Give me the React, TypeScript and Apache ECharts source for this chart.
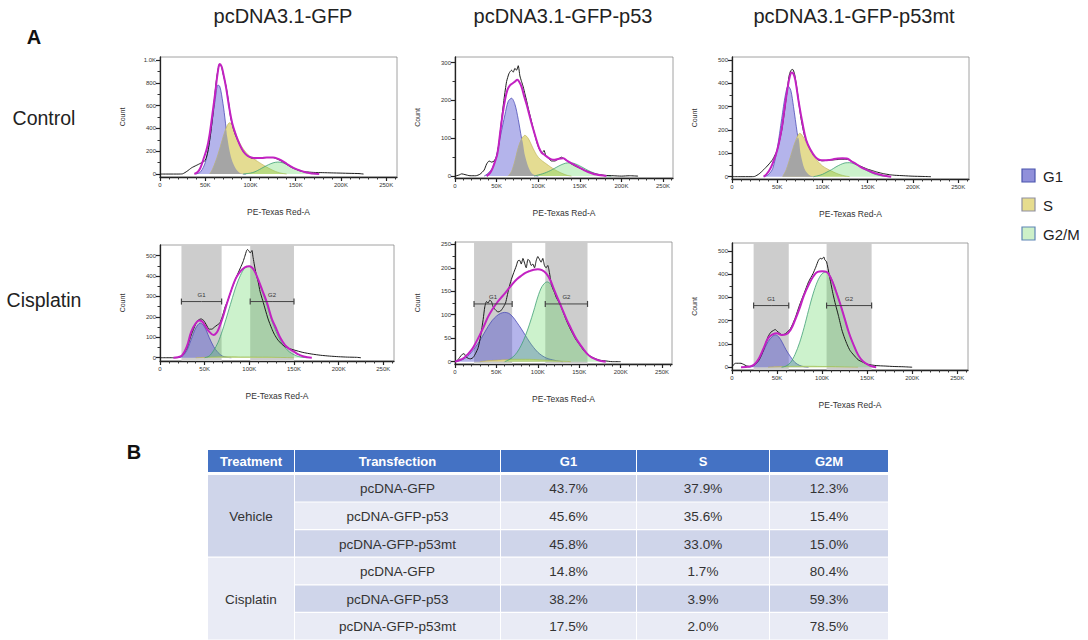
import React, { useEffect, useRef } from 'react';
import * as echarts from 'echarts';

// ---------- labels ----------
const columnTitles = ['pcDNA3.1-GFP', 'pcDNA3.1-GFP-p53', 'pcDNA3.1-GFP-p53mt'];
const rowTitles = ['Control', 'Cisplatin'];
const phaseNames = ['G1', 'S', 'G2/M'];
const gateNames = ['G1', 'G2'];
const xAxisName = 'PE-Texas Red-A';
const yAxisName = 'Count';

// ---------- ticks ----------
const xMajorTicks = [0, 50, 100, 150, 200, 250];
const xMinorTicks = [10, 20, 30, 40, 60, 70, 80, 90, 110, 120, 130, 140, 160, 170, 180, 190, 210, 220, 230, 240, 260];
const yTicks1000 = [0, 200, 400, 600, 800, 1000];
const yMinor1000 = [100, 300, 500, 700, 900];
const yTicks300 = [0, 100, 200, 300];
const yMinor300 = [50, 150, 250];
const yTicks500 = [0, 100, 200, 300, 400, 500];
const yMinor500 = [50, 150, 250, 350, 450];
const yTicks250 = [0, 50, 100, 150, 200, 250];
const yMinor250 = [25, 75, 125, 175, 225];

// ---------- Control / pcDNA3.1-GFP ----------
const ctrlGfpRaw = [[0,0],[10,0],[20,0],[25,2],[30,25],[35,55],[40,75],[45,95],[50,120],[53,200],[56,355],[59,560],[62,800],[64,910],[66,965],[68,940],[70,870],[73,770],[76,620],[78,500],[81,400],[84,330],[88,260],[91,210],[95,170],[101,140],[106,135],[112,140],[118,145],[125,145],[130,130],[135,110],[140,85],[145,60],[150,42],[155,28],[160,20],[170,14],[180,12],[190,10],[200,8],[210,6],[220,4],[225,0]];
const ctrlGfpFit = [[38,0],[42,20],[45,60],[48,130],[52,230],[55,355],[58,530],[61,710],[64,900],[66,965],[68,945],[70,880],[73,760],[77,560],[80,440],[84,340],[88,260],[92,200],[96,165],[101,145],[106,140],[112,140],[118,145],[125,145],[130,135],[135,115],[140,90],[145,65],[150,45],[155,30],[160,18],[165,10],[170,4],[176,0]];
const ctrlGfpG1 = [[40,0],[45,20],[50,100],[54,250],[58,480],[61,650],[64,780],[66,770],[68,700],[71,540],[74,340],[77,200],[80,110],[84,45],[88,12],[92,2],[95,0]];
const ctrlGfpS = [[55,0],[58,40],[62,120],[66,220],[70,330],[74,420],[77,450],[80,430],[83,370],[86,310],[90,245],[95,190],[100,150],[105,125],[110,100],[115,75],[120,52],[125,32],[130,16],[135,6],[140,0]];
const ctrlGfpOverlap = [[55,0],[58,40],[62,120],[66,220],[70,330],[73,390],[74,340],[77,200],[80,110],[84,45],[88,12],[92,2],[95,0]];
const ctrlGfpG2 = [[92,0],[100,8],[105,20],[110,40],[115,62],[120,82],[125,98],[130,105],[135,100],[140,85],[145,65],[150,45],[155,28],[160,15],[165,7],[170,2],[175,0]];

// ---------- Control / pcDNA3.1-GFP-p53 ----------
const ctrlP53Raw = [[0,0],[5,3],[8,6],[12,4],[18,1],[25,1],[30,5],[35,16],[38,32],[41,40],[44,37],[47,40],[50,52],[53,90],[56,150],[59,205],[62,250],[65,272],[68,280],[70,275],[72,285],[74,280],[76,292],[78,265],[80,250],[82,236],[84,218],[86,200],[88,180],[90,162],[93,135],[96,108],[99,85],[102,68],[105,62],[107,68],[109,55],[112,48],[116,40],[120,40],[124,45],[128,50],[131,46],[135,40],[140,32],[145,26],[150,21],[155,16],[160,12],[165,8],[170,5],[180,2],[190,1],[200,0],[210,1],[220,0]];
const ctrlP53Fit = [[38,0],[42,8],[45,20],[48,38],[51,60],[54,110],[57,160],[60,200],[63,228],[66,240],[69,245],[72,250],[75,255],[77,250],[80,236],[83,212],[86,190],[89,165],[92,140],[95,117],[98,95],[101,75],[104,62],[107,57],[110,52],[115,45],[120,43],[125,46],[130,47],[135,40],[140,34],[145,28],[150,22],[155,16],[160,11],[165,7],[170,4],[175,2],[182,0]];
const ctrlP53G1 = [[35,0],[40,8],[45,22],[50,55],[55,110],[60,162],[64,198],[68,206],[72,190],[76,150],[80,100],[84,55],[88,25],[92,8],[96,2],[100,0]];
const ctrlP53S = [[64,0],[68,12],[72,40],[76,75],[80,98],[84,108],[88,100],[92,82],[96,64],[100,50],[105,40],[110,32],[115,24],[120,17],[125,11],[130,6],[135,2],[140,0]];
const ctrlP53Overlap = [[64,0],[68,12],[72,40],[76,75],[80,98],[84,55],[88,25],[92,8],[96,2],[100,0]];
const ctrlP53G2 = [[95,0],[100,3],[105,6],[110,10],[115,15],[120,21],[125,27],[130,32],[135,35],[140,35],[145,32],[150,27],[155,21],[160,15],[165,10],[170,6],[175,3],[180,1],[188,0]];

// ---------- Control / pcDNA3.1-GFP-p53mt ----------
const ctrlMtRaw = [[0,0],[10,0],[20,0],[25,1],[30,12],[35,30],[40,50],[45,74],[50,114],[55,200],[58,280],[61,370],[63,430],[65,455],[67,460],[69,443],[72,371],[76,257],[80,178],[85,128],[90,93],[95,72],[100,68],[105,70],[110,71],[115,73],[120,74],[125,75],[130,72],[135,58],[140,48],[145,40],[150,32],[155,26],[160,20],[165,15],[170,11],[175,8],[180,6],[190,4],[200,2],[210,1],[220,0]];
const ctrlMtFit = [[35,0],[38,10],[41,25],[45,57],[50,114],[55,207],[58,290],[61,370],[64,431],[66,447],[68,440],[70,414],[74,314],[78,228],[82,157],[87,114],[92,85],[97,72],[102,70],[107,71],[112,75],[117,78],[122,79],[127,78],[132,66],[137,55],[142,42],[147,32],[152,24],[157,16],[162,10],[167,5],[172,2],[176,0]];
const ctrlMtG1 = [[35,0],[40,8],[45,35],[50,120],[55,250],[59,350],[62,389],[65,370],[68,300],[72,190],[76,95],[80,35],[85,8],[90,0]];
const ctrlMtS = [[56,0],[60,30],[65,90],[70,150],[75,186],[80,162],[85,122],[90,90],[95,65],[100,46],[105,34],[110,24],[115,15],[120,8],[125,3],[130,0]];
const ctrlMtOverlap = [[56,0],[60,30],[65,90],[70,150],[73,168],[76,95],[80,35],[85,8],[90,0]];
const ctrlMtG2 = [[90,0],[95,4],[100,10],[105,20],[110,30],[115,42],[120,52],[125,59],[130,60],[135,55],[140,46],[145,35],[150,24],[155,15],[160,8],[165,4],[170,1],[175,0]];

// ---------- Cisplatin / pcDNA3.1-GFP ----------
const cisGfpRaw = [[0,0],[10,0],[15,0],[20,1],[25,10],[30,46],[35,111],[40,165],[43,185],[46,190],[49,182],[52,160],[55,140],[58,140],[61,150],[64,160],[67,170],[70,205],[73,250],[76,280],[80,333],[85,390],[90,440],[93,470],[95,497],[97,525],[98,530],[100,520],[101,513],[103,525],[104,497],[107,423],[110,370],[112,325],[115,280],[118,234],[121,190],[125,144],[128,115],[132,87],[136,68],[140,54],[145,45],[150,38],[160,26],[170,18],[180,12],[190,8],[200,5],[210,3],[220,2],[225,0]];
const cisGfpFit = [[15,0],[20,2],[25,13],[30,54],[35,128],[40,169],[44,182],[47,178],[50,160],[55,128],[60,111],[63,120],[66,145],[70,193],[75,267],[80,333],[85,390],[90,423],[95,443],[100,448],[105,431],[110,382],[115,325],[120,267],[125,193],[130,144],[135,95],[140,62],[145,43],[150,30],[155,16],[160,7],[165,2],[170,0]];
const cisGfpG1 = [[20,0],[25,8],[30,35],[35,90],[40,145],[45,170],[50,150],[55,100],[60,55],[65,25],[70,8],[75,2],[80,0]];
const cisGfpS = [[40,0],[50,2],[60,4],[70,5],[80,5],[90,4],[100,4],[110,3],[120,3],[130,2],[140,1],[150,0]];
const cisGfpG2 = [[50,0],[55,8],[60,35],[65,75],[70,135],[75,205],[80,278],[85,348],[90,403],[95,440],[100,448],[105,430],[110,380],[115,320],[120,255],[125,185],[130,128],[135,82],[140,50],[145,28],[150,15],[155,6],[160,2],[165,0]];
const cisGfpGates = [[24, 69], [101, 150]];
const cisGfpGateLevel = 275;

// ---------- Cisplatin / pcDNA3.1-GFP-p53 ----------
const cisP53Raw = [[0,0],[3,3],[6,10],[9,16],[11,17],[13,11],[16,7],[19,6],[22,9],[25,18],[28,30],[31,55],[34,90],[36,117],[38,128],[40,125],[42,131],[44,128],[46,117],[49,110],[52,106],[55,108],[58,115],[61,125],[63,140],[65,156],[68,175],[71,190],[74,204],[76,215],[78,216],[80,208],[82,220],[84,210],[86,200],[88,218],[90,215],[92,205],[94,208],[96,200],[98,215],[100,224],[102,218],[104,212],[106,220],[108,205],[110,200],[112,205],[114,190],[116,168],[118,156],[120,148],[122,138],[125,128],[128,118],[131,104],[134,90],[137,78],[140,67],[143,57],[146,47],[150,38],[155,25],[160,16],[165,10],[170,6],[175,3],[180,2],[190,0],[200,0]];
const cisP53Fit = [[0,0],[5,3],[10,7],[15,15],[20,25],[25,40],[30,57],[35,76],[40,96],[45,111],[50,124],[55,135],[60,145],[65,156],[70,167],[75,176],[80,183],[85,189],[90,193],[95,196],[100,197],[105,195],[110,188],[115,174],[120,152],[125,131],[130,110],[135,89],[140,71],[145,53],[150,39],[155,27],[160,16],[165,9],[170,5],[175,2],[182,0]];
const cisP53G1 = [[0,0],[5,2],[10,5],[15,11],[20,20],[25,32],[30,45],[35,60],[40,75],[45,88],[50,97],[55,103],[60,105],[65,103],[70,95],[75,83],[80,70],[85,56],[90,42],[95,30],[100,20],[105,13],[110,8],[115,5],[120,3],[125,1],[130,0]];
const cisP53S = [[30,0],[40,2],[50,3],[60,4],[70,5],[80,5],[90,5],[100,4],[110,3],[120,2],[130,1],[140,0]];
const cisP53G2 = [[60,0],[65,4],[70,10],[75,20],[80,35],[85,55],[90,80],[95,108],[100,138],[105,160],[111,170],[115,166],[120,150],[125,130],[130,108],[135,88],[140,68],[145,51],[150,37],[155,25],[160,15],[165,9],[170,5],[175,2],[180,0]];
const cisP53Gates = [[23, 69], [109, 160]];
const cisP53GateLevel = 123;

// ---------- Cisplatin / pcDNA3.1-GFP-p53mt ----------
const cisMtRaw = [[0,0],[2,12],[4,17],[10,17],[13,12],[16,6],[20,3],[25,10],[30,31],[35,74],[40,131],[43,150],[46,158],[48,162],[50,155],[53,146],[56,139],[60,146],[65,167],[70,210],[75,267],[80,317],[85,367],[90,403],[93,430],[96,460],[98,468],[100,465],[101,470],[102,474],[103,462],[105,453],[108,396],[112,317],[115,268],[118,224],[122,160],[125,125],[128,96],[131,72],[135,53],[140,32],[145,22],[150,13],[160,7],[170,5],[180,3],[190,2],[200,0]];
const cisMtFit = [[10,0],[20,3],[25,13],[30,39],[35,81],[40,124],[45,141],[50,146],[55,139],[60,141],[65,160],[70,203],[75,253],[80,310],[85,353],[90,389],[95,410],[100,413],[105,410],[110,381],[115,331],[120,274],[125,210],[130,146],[135,96],[140,53],[145,27],[150,13],[155,4],[160,0]];
const cisMtG1 = [[18,0],[22,3],[25,8],[30,30],[35,70],[40,110],[45,133],[48,139],[52,130],[56,105],[60,75],[65,45],[70,20],[75,8],[80,2],[85,0]];
const cisMtS = [[40,0],[50,2],[60,3],[70,4],[80,4],[90,4],[100,3],[110,3],[120,2],[130,1],[140,0]];
const cisMtG2 = [[55,0],[60,5],[65,20],[70,55],[75,105],[80,170],[85,245],[90,315],[95,370],[100,402],[105,410],[110,385],[115,335],[120,275],[125,210],[130,146],[135,96],[140,53],[145,27],[150,12],[155,3],[160,0]];
const cisMtGates = [[24, 63], [105, 155]];
const cisMtGateLevel = 265;

// ---------- Table (panel B) ----------
const tableHeader = ['Treatment', 'Transfection', 'G1', 'S', 'G2M'];
const treatments = ['Vehicle', 'Cisplatin'];
const transfections = ['pcDNA-GFP', 'pcDNA-GFP-p53', 'pcDNA-GFP-p53mt', 'pcDNA-GFP', 'pcDNA-GFP-p53', 'pcDNA-GFP-p53mt'];
const g1Pct = [43.7, 45.6, 45.8, 14.8, 38.2, 17.5];
const sPct = [37.9, 35.6, 33.0, 1.7, 3.9, 2.0];
const g2mPct = [12.3, 15.4, 15.0, 80.4, 59.3, 78.5];

const FONT = '"Liberation Sans", Arial, Helvetica, sans-serif';

const plots = [
  { grid: { left: 160, top: 57, width: 237, height: 120 }, yMin: -26, yMax: 1026, yTicks: yTicks1000, yMinor: yMinor1000,
    raw: ctrlGfpRaw, fit: ctrlGfpFit, g1: ctrlGfpG1, s: ctrlGfpS, ov: ctrlGfpOverlap, g2: ctrlGfpG2, gates: null, gateLevel: 0 },
  { grid: { left: 455, top: 57, width: 218, height: 121 }, yMin: -5, yMax: 315, yTicks: yTicks300, yMinor: yMinor300,
    raw: ctrlP53Raw, fit: ctrlP53Fit, g1: ctrlP53G1, s: ctrlP53S, ov: ctrlP53Overlap, g2: ctrlP53G2, gates: null, gateLevel: 0 },
  { grid: { left: 732, top: 57, width: 237, height: 122 }, yMin: -10, yMax: 513, yTicks: yTicks500, yMinor: yMinor500,
    raw: ctrlMtRaw, fit: ctrlMtFit, g1: ctrlMtG1, s: ctrlMtS, ov: ctrlMtOverlap, g2: ctrlMtG2, gates: null, gateLevel: 0 },
  { grid: { left: 160, top: 245, width: 234, height: 116 }, yMin: -16, yMax: 552, yTicks: yTicks500, yMinor: yMinor500,
    raw: cisGfpRaw, fit: cisGfpFit, g1: cisGfpG1, s: cisGfpS, ov: null, g2: cisGfpG2, gates: cisGfpGates, gateLevel: cisGfpGateLevel },
  { grid: { left: 455, top: 242, width: 217, height: 122 }, yMin: -5, yMax: 255, yTicks: yTicks250, yMinor: yMinor250,
    raw: cisP53Raw, fit: cisP53Fit, g1: cisP53G1, s: cisP53S, ov: null, g2: cisP53G2, gates: cisP53Gates, gateLevel: cisP53GateLevel },
  { grid: { left: 732, top: 243, width: 236, height: 127 }, yMin: -12, yMax: 534, yTicks: yTicks500, yMinor: yMinor500,
    raw: cisMtRaw, fit: cisMtFit, g1: cisMtG1, s: cisMtS, ov: null, g2: cisMtG2, gates: cisMtGates, gateLevel: cisMtGateLevel },
];

function buildOption() {
  const grids: any[] = [];
  const xAxes: any[] = [];
  const yAxes: any[] = [];
  const series: any[] = [];

  plots.forEach((p, i) => {
    grids.push({ ...p.grid, show: true, borderColor: '#8a8a8a', borderWidth: 0.8, backgroundColor: '#fff' });
    const axX = 2 * i;
    xAxes.push({
      gridIndex: i, type: 'value', min: 0, max: 262, position: 'bottom',
      axisLine: { onZero: false, lineStyle: { color: '#222', width: 1.3 } },
      axisTick: { show: true, customValues: xMajorTicks, length: 4, lineStyle: { color: '#222', width: 1.2 } },
      axisLabel: { customValues: xMajorTicks, fontSize: 6, color: '#333', margin: 5, fontFamily: FONT,
        formatter: (v: number) => (v === 0 ? '0' : v + 'K') },
      splitLine: { show: false },
      name: xAxisName, nameLocation: 'middle', nameGap: 30,
      nameTextStyle: { fontSize: 8.5, color: '#333', fontFamily: FONT },
    });
    xAxes.push({
      gridIndex: i, type: 'value', min: 0, max: 262, position: 'bottom',
      axisLine: { show: false, onZero: false },
      axisTick: { show: true, customValues: xMinorTicks, length: 2.5, lineStyle: { color: '#333', width: 1 } },
      axisLabel: { show: false }, splitLine: { show: false },
    });
    yAxes.push({
      gridIndex: i, type: 'value', min: p.yMin, max: p.yMax, position: 'left',
      axisLine: { show: true, onZero: false, lineStyle: { color: '#222', width: 1.3 } },
      axisTick: { show: true, customValues: p.yTicks, length: 4, lineStyle: { color: '#222', width: 1.2 } },
      axisLabel: { customValues: p.yTicks, fontSize: 6, color: '#333', margin: 4, fontFamily: FONT,
        formatter: (v: number) => (v >= 1000 ? (v / 1000).toFixed(1) + 'K' : String(v)) },
      splitLine: { show: false },
      name: yAxisName, nameLocation: 'middle', nameGap: 34, nameRotate: 90,
      nameTextStyle: { fontSize: 7, color: '#333', fontFamily: FONT },
    });
    yAxes.push({
      gridIndex: i, type: 'value', min: p.yMin, max: p.yMax, position: 'left',
      axisLine: { show: false, onZero: false },
      axisTick: { show: true, customValues: p.yMinor, length: 2.5, lineStyle: { color: '#333', width: 1 } },
      axisLabel: { show: false }, splitLine: { show: false },
    });

    const base = { xAxisIndex: axX, yAxisIndex: axX, type: 'line', symbol: 'none', silent: true, animation: false };

    if (p.gates) {
      series.push({
        ...base, name: 'gates' + i, data: [[0, 0]], lineStyle: { width: 0, opacity: 0 }, z: 1,
        markArea: { silent: true, itemStyle: { color: '#cdcdcd' },
          data: p.gates.map((g: number[]) => [{ xAxis: g[0] }, { xAxis: g[1] }]) },
      });
    }
    series.push({ ...base, name: phaseNames[0], data: p.g1, smooth: 0.3, z: 2,
      lineStyle: { color: '#4c4cb8', width: 0.8 }, areaStyle: { color: 'rgba(72,72,205,0.58)' } });
    series.push({ ...base, name: phaseNames[1], data: p.s, smooth: 0.3, z: 3,
      lineStyle: { color: '#bcae4a', width: 0.6 }, areaStyle: { color: '#e4dc92', opacity: 1 } });
    if (p.ov) {
      series.push({ ...base, name: 'G1∩S', data: p.ov, smooth: 0.3, z: 4,
        lineStyle: { width: 0 }, areaStyle: { color: '#a5a5a5', opacity: 1 } });
    }
    series.push({ ...base, name: phaseNames[2], data: p.g2, smooth: 0.3, z: 5,
      lineStyle: { color: '#3f9f75', width: 0.8 }, areaStyle: { color: 'rgba(92,212,92,0.45)' } });
    series.push({ ...base, name: 'raw' + i, data: p.raw, smooth: 0.2, z: 6,
      lineStyle: { color: '#1c1c1c', width: 1 } });
    series.push({ ...base, name: 'fit' + i, data: p.fit, smooth: 0.4, z: 7,
      lineStyle: { color: '#c222c2', width: 2 } });
    if (p.gates) {
      p.gates.forEach((g: number[], k: number) => {
        const lv = p.gateLevel;
        series.push({
          ...base, name: 'bracket' + i + k, z: 8,
          symbol: 'rect', symbolSize: [1.2, 6], showSymbol: true,
          itemStyle: { color: '#444' },
          lineStyle: { color: '#444', width: 1 },
          label: { show: false },
          data: [
            { value: [g[0], lv] },
            { value: [(g[0] + g[1]) / 2, lv], symbol: 'circle', symbolSize: 0.01,
              label: { show: true, position: 'top', distance: 4, formatter: gateNames[k], fontSize: 6, color: '#333', fontFamily: FONT } },
            { value: [g[1], lv] },
          ],
        });
      });
    }
  });

  // ---------- graphic: titles, legend, table ----------
  const g: any[] = [];
  const txt = (x: number, y: number, text: string, font: string, fill = '#222', align = 'center') => ({
    type: 'text', x, y, silent: true, z: 10,
    style: { text, font, fill, align, verticalAlign: 'middle' },
  });
  g.push(txt(34, 37, 'A', `bold 20px ${FONT}`, '#111'));
  g.push(txt(134, 452, 'B', `bold 20px ${FONT}`, '#111'));
  const titleX = [283, 563, 854];
  columnTitles.forEach((t, i) => g.push(txt(titleX[i], 16, t, `20px ${FONT}`, '#222')));
  const rowY = [118, 300];
  rowTitles.forEach((t, i) => g.push(txt(44, rowY[i], t, `19.5px ${FONT}`, '#222')));

  // legend
  const legFill = ['#9090da', '#e6dc8e', '#cdf0c8'];
  const legStroke = ['#4b55ad', '#8f8f9f', '#5f86b5'];
  const legY = [176, 205, 234];
  phaseNames.forEach((n, i) => {
    g.push({ type: 'rect', silent: true, z: 10, shape: { x: 1022, y: legY[i] - 7, width: 13, height: 13 },
      style: { fill: legFill[i], stroke: legStroke[i], lineWidth: 1.2 } });
    g.push(txt(1043, legY[i], n, `15px ${FONT}`, '#222', 'left'));
  });

  // table
  const colX = [208, 295, 501, 637, 770];
  const colW = [86, 205, 135, 132, 118];
  const dark = '#cfd5ea';
  const light = '#e9ebf5';
  tableHeader.forEach((h, c) => {
    g.push({ type: 'rect', silent: true, z: 10, shape: { x: colX[c], y: 450, width: colW[c], height: 22 }, style: { fill: '#4472c4' } });
    g.push(txt(colX[c] + colW[c] / 2, 461.5, h, `bold 13px ${FONT}`, '#fff'));
  });
  const rowTop = 475;
  const rowH = 27.6;
  treatments.forEach((t, k) => {
    const y0 = rowTop + k * 3 * rowH;
    g.push({ type: 'rect', silent: true, z: 10, shape: { x: colX[0], y: y0, width: colW[0], height: 3 * rowH - 1.2 },
      style: { fill: k === 0 ? dark : light } });
    g.push(txt(colX[0] + colW[0] / 2, y0 + 1.5 * rowH, t, `13.5px ${FONT}`, '#333'));
  });
  transfections.forEach((tr, r) => {
    const y0 = rowTop + r * rowH;
    const fill = r % 2 === 0 ? dark : light;
    const cells = [tr, g1Pct[r].toFixed(1) + '%', sPct[r].toFixed(1) + '%', g2mPct[r].toFixed(1) + '%'];
    cells.forEach((cv, c) => {
      const ci = c + 1;
      g.push({ type: 'rect', silent: true, z: 10, shape: { x: colX[ci], y: y0, width: colW[ci], height: rowH - 1.2 }, style: { fill } });
      g.push(txt(colX[ci] + colW[ci] / 2, y0 + rowH / 2, cv, `13.5px ${FONT}`, '#333'));
    });
  });

  return {
    animation: false,
    backgroundColor: '#ffffff',
    textStyle: { fontFamily: FONT },
    grid: grids,
    xAxis: xAxes,
    yAxis: yAxes,
    series,
    graphic: g,
  };
}

export default function App() {
  const ref = useRef<HTMLDivElement>(null);
  useEffect(() => {
    if (!ref.current) return;
    const chart = echarts.init(ref.current, undefined, { renderer: 'svg' });
    chart.setOption(buildOption() as any);
    return () => chart.dispose();
  }, []);
  return <div ref={ref} style={{ position: 'absolute', left: 0, top: 0, width: 1088, height: 640, background: '#fff' }} />;
}
